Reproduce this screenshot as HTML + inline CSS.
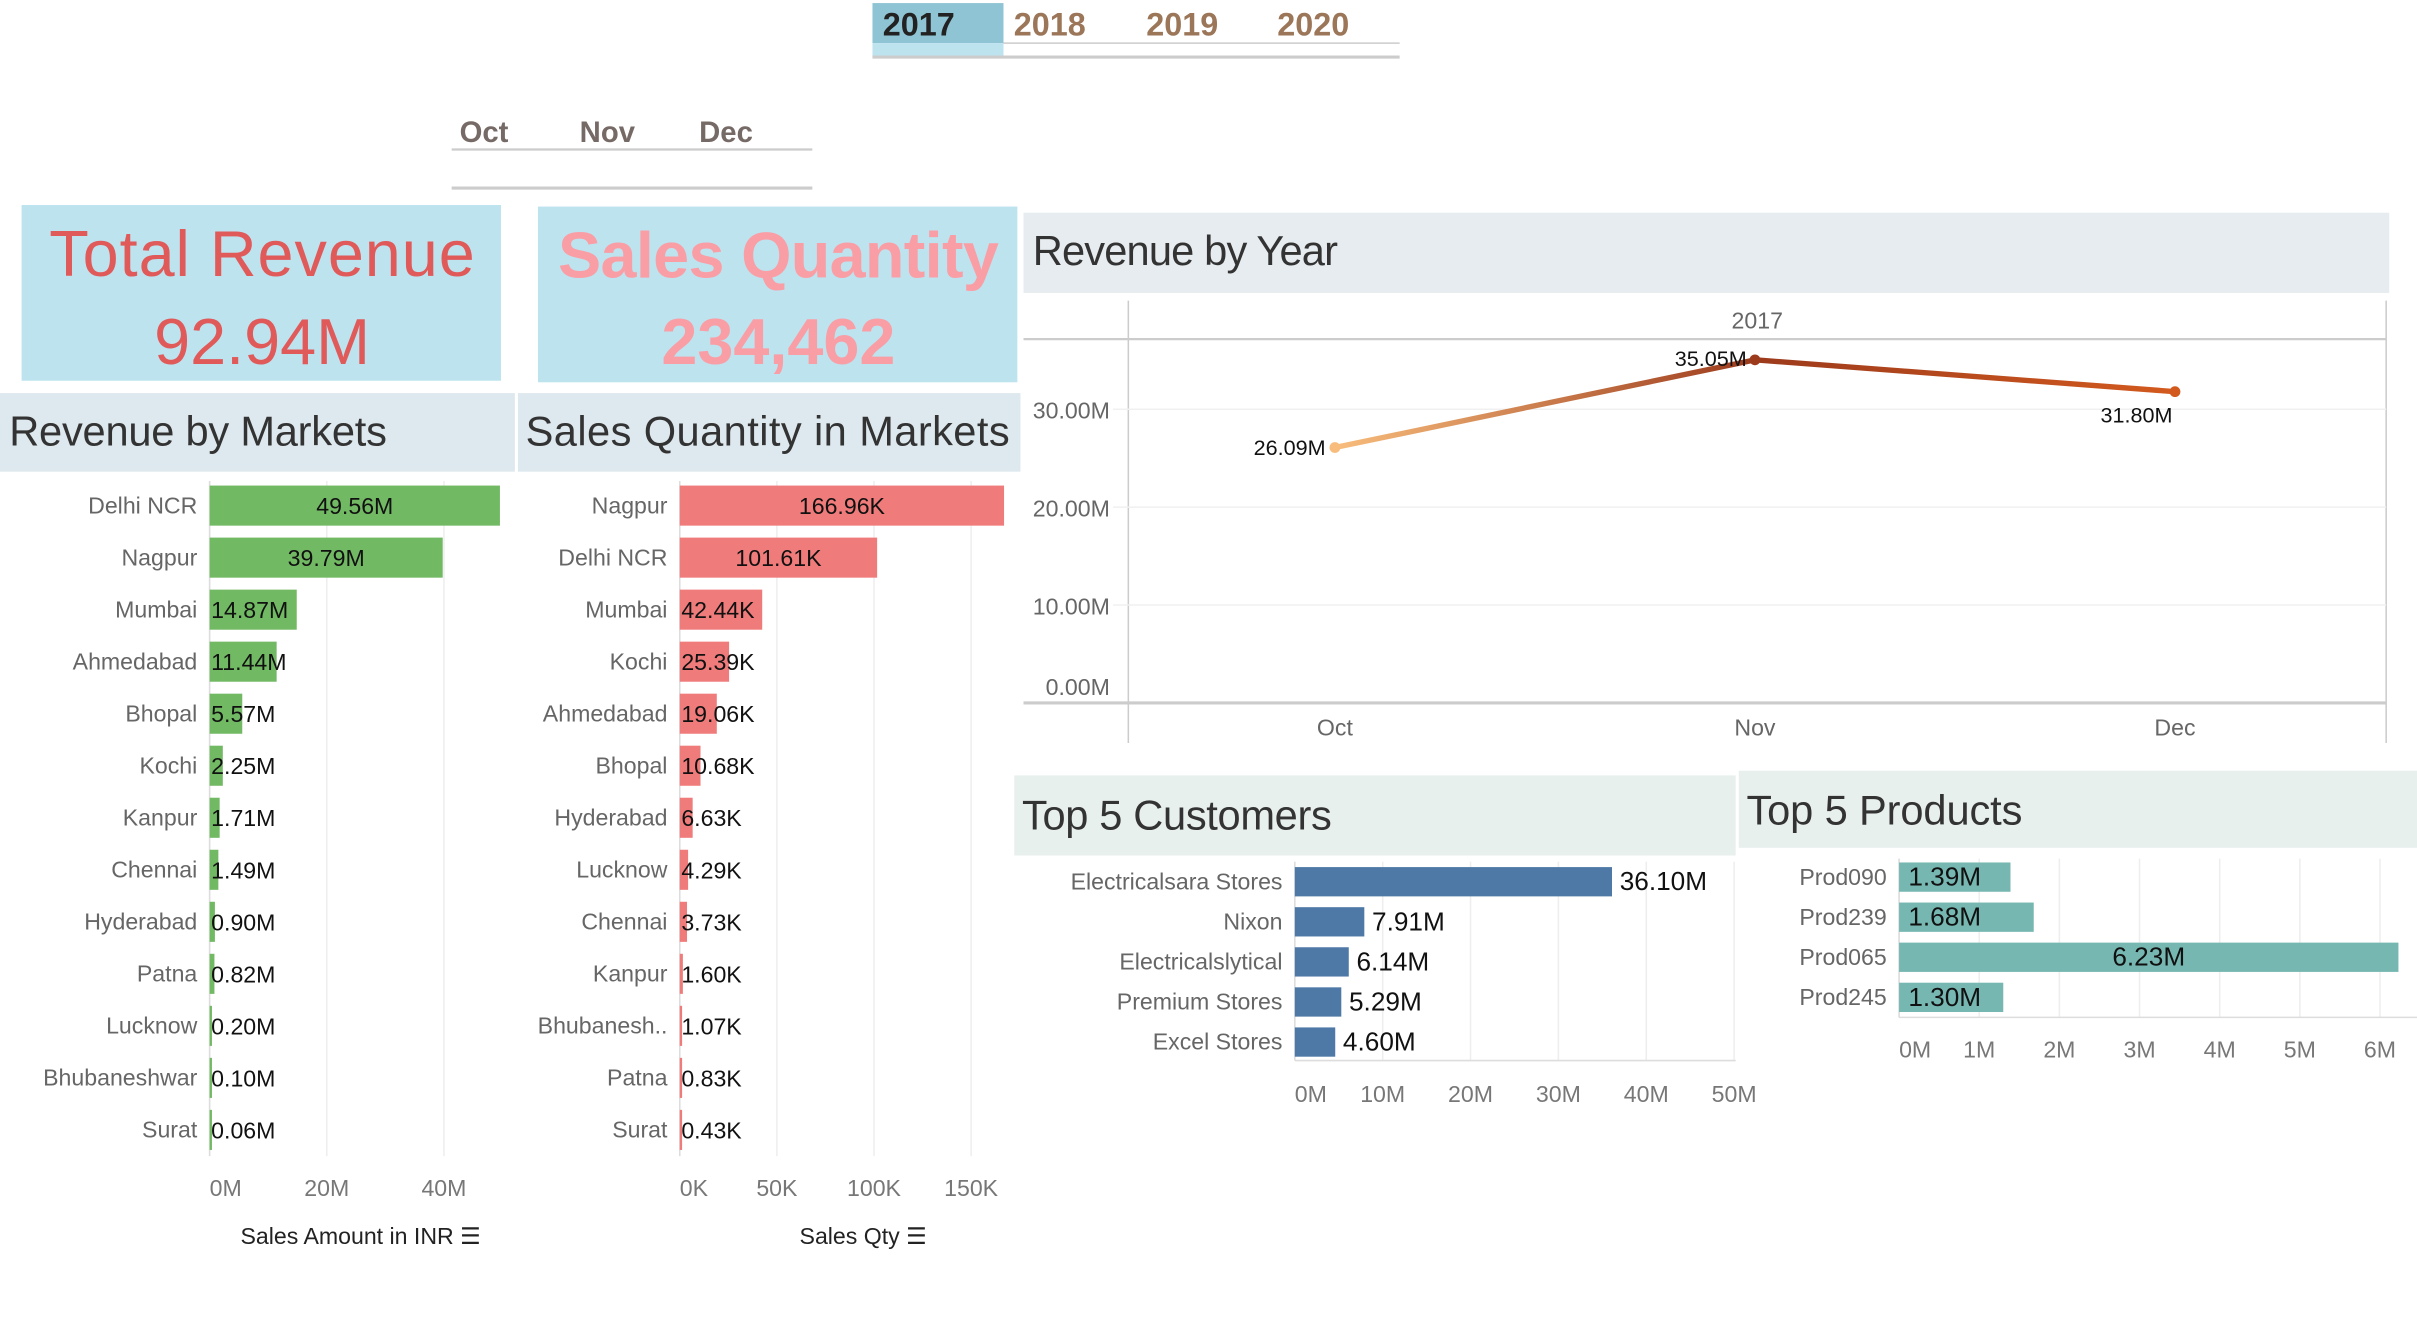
<!DOCTYPE html>
<html><head><meta charset="utf-8"><style>
html,body{margin:0;padding:0;background:#fff;overflow:hidden}
svg{display:block;font-family:"Liberation Sans",sans-serif}
</style></head><body>
<svg id="s" width="2417" height="1328" viewBox="0 0 1568 861.5" preserveAspectRatio="none" xmlns="http://www.w3.org/2000/svg">
<g>
<rect x="566" y="2" width="85" height="26" fill="#8ec4d3"/>
<rect x="566" y="28" width="85" height="9" fill="#bde3ef"/>
<line x1="651" y1="28" x2="908" y2="28" stroke="#ccc"/>
<line x1="566" y1="37" x2="908" y2="37" stroke="#ccc" stroke-width="2"/>
<text x="596" y="23" font-size="21" font-weight="bold" fill="#222" text-anchor="middle">2017</text>
<text x="681" y="23" font-size="21" font-weight="bold" fill="#9c7658" text-anchor="middle">2018</text>
<text x="767" y="23" font-size="21" font-weight="bold" fill="#9c7658" text-anchor="middle">2019</text>
<text x="852" y="23" font-size="21" font-weight="bold" fill="#9c7658" text-anchor="middle">2020</text>
</g>
<g>
<text x="314" y="92" font-size="19" font-weight="bold" fill="#766a66" text-anchor="middle">Oct</text>
<text x="394" y="92" font-size="19" font-weight="bold" fill="#766a66" text-anchor="middle">Nov</text>
<text x="471" y="92" font-size="19" font-weight="bold" fill="#766a66" text-anchor="middle">Dec</text>
<line x1="293" y1="97" x2="527" y2="97" stroke="#ccc" stroke-width="1.5"/>
<line x1="293" y1="122" x2="527" y2="122" stroke="#ccc" stroke-width="2"/>
</g>
<g>
<rect x="14" y="133" width="311" height="114" fill="#bde3ef"/>
<text x="170" y="179" font-size="42" fill="#e05a5a" text-anchor="middle" textLength="276">Total Revenue</text>
<text x="170" y="236" font-size="42" fill="#e05a5a" text-anchor="middle">92.94M</text>
</g>
<g>
<rect x="349" y="134" width="311" height="114" fill="#bde3ef"/>
<text x="505" y="180" font-size="42" font-weight="bold" fill="#fa9ea6" text-anchor="middle" textLength="286">Sales Quantity</text>
<text x="505" y="236" font-size="42" font-weight="bold" fill="#fa9ea6" text-anchor="middle">234,462</text>
</g>
<rect x="0" y="255" width="334" height="51" fill="#dde9ee"/>
<text x="6" y="289" font-size="27" fill="#333" textLength="245">Revenue by Markets</text>
<rect x="336" y="255" width="326" height="51" fill="#dde9ee"/>
<text x="341" y="289" font-size="27" fill="#333" textLength="314">Sales Quantity in Markets</text>
<rect x="664" y="138" width="886" height="52" fill="#e6ecef"/>
<text x="670" y="172" font-size="27" fill="#333" textLength="198">Revenue by Year</text>
<rect x="658" y="503" width="468" height="52" fill="#e8f0ee"/>
<text x="663" y="538" font-size="27" fill="#333" textLength="201">Top 5 Customers</text>
<rect x="1128" y="500" width="440" height="50" fill="#e8f0ee"/>
<text x="1133" y="535" font-size="27" fill="#333" textLength="179">Top 5 Products</text>
<g id="g1"></g>
<g id="g2"></g>
<g id="g3"></g>
<g id="g4"></g>
<g id="g5"></g>
</svg>
<script>
const revMarkets=["Delhi NCR","Nagpur","Mumbai","Ahmedabad","Bhopal","Kochi","Kanpur","Chennai","Hyderabad","Patna","Lucknow","Bhubaneshwar","Surat"];
const revValues=[49.56,39.79,14.87,11.44,5.57,2.25,1.71,1.49,0.90,0.82,0.20,0.10,0.06];
const revTicks=[0,20,40];
const qtyMarkets=["Nagpur","Delhi NCR","Mumbai","Kochi","Ahmedabad","Bhopal","Hyderabad","Lucknow","Chennai","Kanpur","Bhubanesh..","Patna","Surat"];
const qtyValues=[166.96,101.61,42.44,25.39,19.06,10.68,6.63,4.29,3.73,1.60,1.07,0.83,0.43];
const qtyTicks=[0,50,100,150];
const months=["Oct","Nov","Dec"];
const yearRevenue=[26.09,35.05,31.80];
const yearTicks=[0,10,20,30];
const customers=["Electricalsara Stores","Nixon","Electricalslytical","Premium Stores","Excel Stores"];
const custValues=[36.10,7.91,6.14,5.29,4.60];
const custTicks=[0,10,20,30,40,50];
const products=["Prod090","Prod239","Prod065","Prod245"];
const prodValues=[1.39,1.68,6.23,1.30];
const prodTicks=[0,1,2,3,4,5,6];
const NS="http://www.w3.org/2000/svg";
function mk(p,tag,a,txt){const e=document.createElementNS(NS,tag);for(const k in a)e.setAttribute(k,a[k]);if(txt!==undefined)e.textContent=txt;p.appendChild(e);return e;}
function hbar(g,cats,vals,ticks,x0,ppu,y0,step,bh,color,fmt,tickFmt,gridTop,gridBot,tickY,lfs,vfs,mode,smallOff){
  const sx=v=>x0+v*ppu;
  ticks.forEach(t=>{mk(g,'line',{x1:sx(t),y1:gridTop,x2:sx(t),y2:gridBot,stroke:'#eee'});
    const tl=mk(g,'text',{x:sx(t),y:tickY,'font-size':15,fill:'#777','text-anchor':t===0?'start':'middle'},tickFmt(t));
    });
  mk(g,'line',{x1:x0,y1:gridTop,x2:x0,y2:gridBot,stroke:'#ddd'});
  cats.forEach((c,i)=>{const cy=y0+i*step;const w=vals[i]*ppu;
    const r=mk(g,'rect',{x:x0,y:cy-bh/2,width:Math.max(w,1.5),height:bh,fill:color});
    
    
    const l=mk(g,'text',{x:x0-8,y:cy+5,'font-size':lfs,fill:'#666','text-anchor':'end'},c);
    
    let x,anchor;
    if(mode==='outside'){x=x0+w+5;anchor='start';}
    else if(w>110){x=x0+w/2;anchor='middle';}
    else {x=x0+smallOff;anchor='start';}
    const v=mk(g,'text',{x:x,y:cy+5.5,'font-size':vfs,fill:'#111','text-anchor':anchor},fmt(vals[i]));
    });
}
const g1=document.getElementById('g1');
hbar(g1,revMarkets,revValues,revTicks,136,3.8,328,33.75,26,'#72b964',v=>v.toFixed(2)+'M',t=>t+'M',312,750,776,15,15,'auto',1);
const t1=mk(g1,'text',{x:234,y:807,'font-size':15,fill:'#222','text-anchor':'middle'},'Sales Amount in INR ☰');

const g2=document.getElementById('g2');
hbar(g2,qtyMarkets,qtyValues,qtyTicks,441,1.26,328,33.75,26,'#f07b7b',v=>v.toFixed(2)+'K',t=>t+'K',312,750,776,15,15,'auto',1);
const t2=mk(g2,'text',{x:560,y:807,'font-size':15,fill:'#222','text-anchor':'middle'},'Sales Qty ☰');

// line chart
const g3=document.getElementById('g3');
const ly=v=>456-v*6.35, lx=i=>866+i*272.5;
mk(g3,'line',{x1:732,y1:195,x2:732,y2:482,stroke:'#ccc'});
mk(g3,'line',{x1:1548,y1:195,x2:1548,y2:482,stroke:'#ccc'});
mk(g3,'line',{x1:664,y1:220,x2:1548,y2:220,stroke:'#ccc',"stroke-width":1.5});
mk(g3,'line',{x1:664,y1:456,x2:1548,y2:456,stroke:'#ccc',"stroke-width":2});
const yl=mk(g3,'text',{x:1140,y:213,'font-size':15,fill:'#666','text-anchor':'middle'},'2017');

yearTicks.forEach(t=>{if(t>0)mk(g3,'line',{x1:722,y1:ly(t),x2:1548,y2:ly(t),stroke:'#f0f0f0'});
  const e=mk(g3,'text',{x:720,y:t===0?ly(t)-5:ly(t)+6,'font-size':15,fill:'#666','text-anchor':'end'},t.toFixed(2)+'M');
  });
months.forEach((m,i)=>{const e=mk(g3,'text',{x:lx(i),y:477,'font-size':15,fill:'#666','text-anchor':'middle'},m);
  });
const defs=mk(g3,'defs',{});
const cols=["#f8bd7c","#9c3a1c","#d35a1e"];
for(let i=0;i<months.length-1;i++){
  const lg=mk(defs,'linearGradient',{id:'lg'+i,gradientUnits:'userSpaceOnUse',x1:lx(i),y1:0,x2:lx(i+1),y2:0});
  mk(lg,'stop',{offset:0,'stop-color':cols[i]});mk(lg,'stop',{offset:1,'stop-color':cols[i+1]});
  const s=mk(g3,'line',{x1:lx(i),y1:ly(yearRevenue[i]),x2:lx(i+1),y2:ly(yearRevenue[i+1]),stroke:'url(#lg'+i+')','stroke-width':3.5,'stroke-linecap':'round'});
  }
yearRevenue.forEach((v,i)=>{const c=mk(g3,'circle',{cx:lx(i),cy:ly(v),r:3.5,fill:cols[i]});
  
  const off=[[-6,5,'end'],[-52,4,'start'],[-25,20,'middle']][i];
  const t=mk(g3,'text',{x:lx(i)+off[0],y:ly(v)+off[1],'font-size':14,fill:'#111','text-anchor':off[2]},v.toFixed(2)+'M');
  });
// customers
const g4=document.getElementById('g4');
hbar(g4,customers,custValues,custTicks,840,5.7,572,26,19,'#4e79a7',v=>v.toFixed(2)+'M',t=>t+'M',559,688,715,15,17,'outside',0);
mk(g4,'line',{x1:840,y1:688,x2:1126,y2:688,stroke:'#ddd'});
// products
const g5=document.getElementById('g5');
hbar(g5,products,prodValues,prodTicks,1232,52,569,26,19,'#76b7b2',v=>v.toFixed(2)+'M',t=>t+'M',557,660,686,15,17,'auto',6);
mk(g5,'line',{x1:1232,y1:660,x2:1568,y2:660,stroke:'#ddd'});
</script>
</body></html>
